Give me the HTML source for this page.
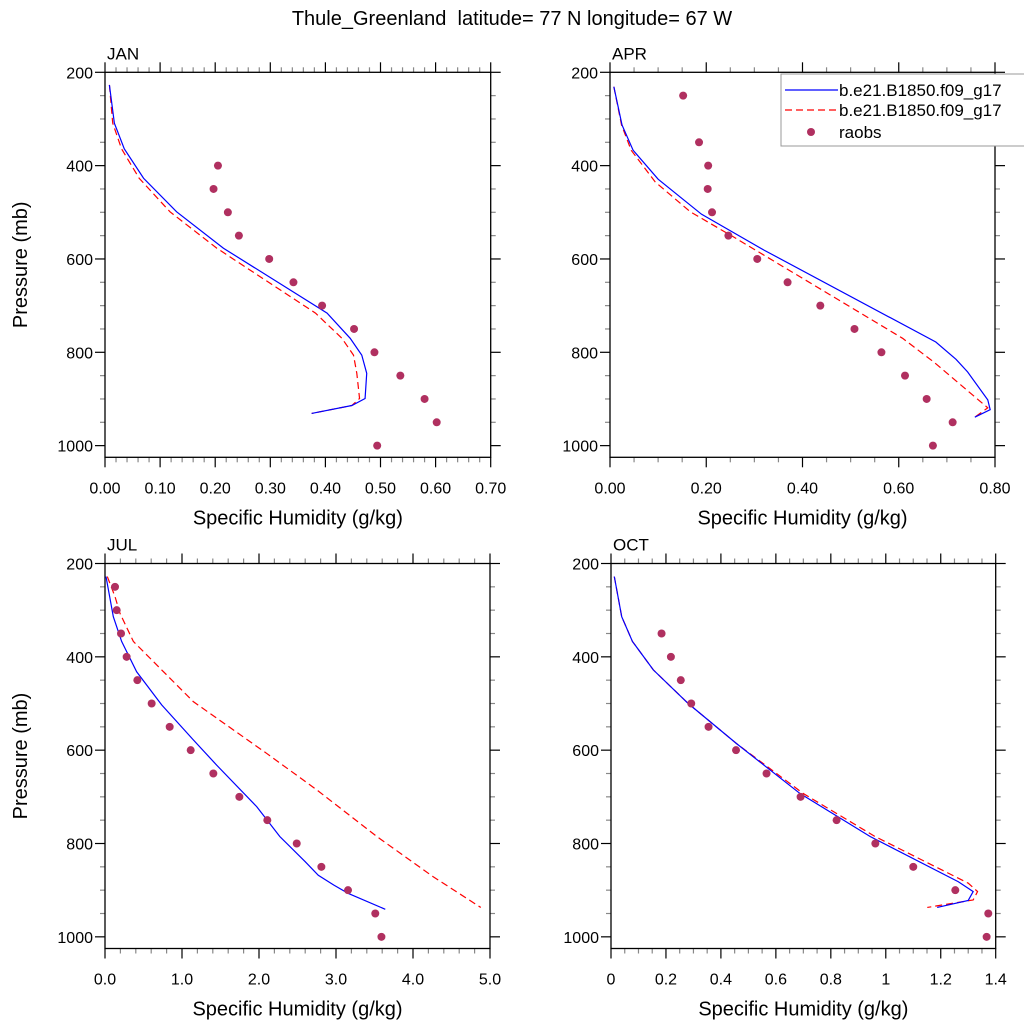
<!DOCTYPE html>
<html><head><meta charset="utf-8">
<style>
html,body{margin:0;padding:0;background:#fff;}
svg{display:block;font-family:"Liberation Sans",sans-serif;}
</style></head>
<body>
<svg id="fig" width="1024" height="1024" viewBox="0 0 1024 1024" xmlns="http://www.w3.org/2000/svg">
<text x="512" y="25" font-size="20" text-anchor="middle" xml:space="preserve" style="white-space:pre">Thule_Greenland  latitude= 77 N longitude= 67 W</text>
</svg>
<script>
// ---- data ----
const presLevels = [250,300,350,400,450,500,550,600,650,700,750,800,850,900,950,1000];
const janModelP = [227,309,364,427,499,577,716,770,806,845,899,914,931];
const janCase1 = [0.008,0.017,0.035,0.070,0.130,0.215,0.403,0.445,0.466,0.475,0.472,0.448,0.375];
const janCase2 = [0.008,0.014,0.030,0.062,0.118,0.203,0.382,0.430,0.451,0.457,0.462,0.448,0.375];
const janObs = [null,null,null,0.205,0.197,0.223,0.243,0.298,0.342,0.394,0.452,0.489,0.536,0.580,0.602,0.494];

const aprModelP1 = [231,313,367,429,504,581,778,815,842,902,923,939];
const aprCase1 = [0.008,0.025,0.048,0.10,0.19,0.32,0.677,0.719,0.743,0.785,0.79,0.758];
const aprModelP2 = [231,313,367,435,499,553,770,821,919,939];
const aprCase2 = [0.008,0.024,0.044,0.094,0.167,0.257,0.608,0.673,0.785,0.758];
const aprObs = [0.152,null,0.185,0.204,0.203,0.212,0.246,0.306,0.369,0.437,0.508,0.564,0.613,0.658,0.712,0.671];

const julModelP1 = [228,314,367,432,503,578,632,721,785,839,868,889,907,941];
const julCase1 = [0.013,0.108,0.216,0.411,0.736,1.147,1.45,1.97,2.27,2.6,2.77,2.97,3.16,3.64];
const julModelP2 = [228,271,307,367,428,496,607,685,785,871,937];
const julCase2 = [0.03,0.13,0.195,0.368,0.736,1.147,2.1,2.75,3.53,4.26,4.88];
const julObs = [0.13,0.152,0.208,0.281,0.42,0.606,0.84,1.113,1.407,1.745,2.108,2.49,2.81,3.156,3.51,3.59];

const octModelP1 = [228,314,367,428,500,586,693,785,882,903,922,937];
const octCase1 = [0.012,0.039,0.078,0.154,0.281,0.457,0.688,0.943,1.264,1.318,1.30,1.187];
const octModelP2 = [228,314,367,428,500,586,693,785,885,903,921,937];
const octCase2 = [0.012,0.039,0.078,0.154,0.281,0.457,0.70,0.961,1.30,1.334,1.318,1.151];
const octObs = [null,null,0.184,0.218,0.254,0.292,0.355,0.455,0.566,0.69,0.821,0.962,1.10,1.253,1.373,1.367];

const yTicks = [200,400,600,800,1000];
const janXTicks = ["0.00","0.10","0.20","0.30","0.40","0.50","0.60","0.70"];
const aprXTicks = ["0.00","0.20","0.40","0.60","0.80"];
const julXTicks = ["0.0","1.0","2.0","3.0","4.0","5.0"];
const octXTicks = ["0","0.2","0.4","0.6","0.8","1","1.2","1.4"];

// ---- drawing ----
const NS="http://www.w3.org/2000/svg";
const svg=document.getElementById('fig');
function mk(tag,attrs,parent){const e=document.createElementNS(NS,tag);for(const k in attrs)e.setAttribute(k,attrs[k]);(parent||svg).appendChild(e);return e;}

function panel(cfg){
  const g=mk('g',{});
  
  
  const x0=cfg.x0,x1=cfg.x1,y0=cfg.y0,y1=cfg.y1;
  const pmin=200,pmax=1025;
  const xs=v=>x0+(v-cfg.xmin)/(cfg.xmax-cfg.xmin)*(x1-x0);
  const ys=p=>y0+(p-pmin)/(pmax-pmin)*(y1-y0);
  for(let p=200;p<=1000;p+=50){
    const major=(p%200===0);
    const L=major?10:5, col=major?'#000':'#888';
    const t1=mk('line',{x1:x0-L,x2:x0,y1:ys(p),y2:ys(p),stroke:col,'stroke-width':1.2},g);
    
    
    const t2=mk('line',{x1:x1,x2:x1+L,y1:ys(p),y2:ys(p),stroke:col,'stroke-width':1.2},g);
    
    
  }
  yTicks.forEach(p=>{
    const t=mk('text',{x:x0-12,y:ys(p)+6,'font-size':16,'text-anchor':'end'},g);
    t.textContent=p;
    
    
  });
  const nMaj=cfg.xlabels.length-1;
  const step=(cfg.xmax-cfg.xmin)/nMaj;
  const nTot=nMaj*cfg.minor;
  for(let i=0;i<=nTot;i++){
    const v=cfg.xmin+i*step/cfg.minor;
    const major=(i%cfg.minor===0);
    const L=major?10:5,col=major?'#000':'#888';
    const a=mk('line',{x1:xs(v),x2:xs(v),y1:y1,y2:y1+L,stroke:col,'stroke-width':1.2},g);
    
    
    const b=mk('line',{x1:xs(v),x2:xs(v),y1:y0-L,y2:y0,stroke:col,'stroke-width':1.2},g);
    
    
  }
  cfg.xlabels.forEach((lab,i)=>{
    const t=mk('text',{x:xs(cfg.xmin+i*step),y:y1+36,'font-size':16,'text-anchor':'middle'},g);
    t.textContent=lab;
    
    
  });
  const box=mk('rect',{x:x0,y:y0,width:x1-x0,height:y1-y0,fill:'none',stroke:'#000','stroke-width':1.3},g);
  
  
  const ttl=mk('text',{x:x0+2,y:y0-13,'font-size':17},g);
  ttl.textContent=cfg.title;
  
  
  const xt=mk('text',{x:(x0+x1)/2,y:y1+67,'font-size':20,'text-anchor':'middle'},g);
  xt.textContent='Specific Humidity (g/kg)';
  
  
  if(cfg.ylabel){
    const yt=mk('text',{x:0,y:0,'font-size':20,'text-anchor':'middle',transform:`translate(27,${(y0+y1)/2}) rotate(-90)`},g);
    yt.textContent='Pressure (mb)';
    
    
  }
  const pts1=cfg.p1.map((p,i)=>xs(cfg.c1[i])+','+ys(p)).join(' ');
  const pts2=cfg.p2.map((p,i)=>xs(cfg.c2[i])+','+ys(p)).join(' ');
  const l2=mk('polyline',{points:pts2,fill:'none',stroke:'#ff0000','stroke-width':1.2,'stroke-dasharray':'7,4'},g);
  
  
  const l1=mk('polyline',{points:pts1,fill:'none',stroke:'#0000ff','stroke-width':1.2},g);
  
  
  cfg.obs.forEach((v,i)=>{
    if(v===null)return;
    const c=mk('circle',{cx:xs(v),cy:ys(presLevels[i]),r:4,fill:'#b03060'},g);
    
    
  });
}

panel({name:'jan',title:'JAN',x0:105,x1:490.7,y0:72.3,y1:457.3,xmin:0,xmax:0.7,xlabels:janXTicks,minor:5,ylabel:true,p1:janModelP,c1:janCase1,p2:janModelP,c2:janCase2,obs:janObs});
panel({name:'apr',title:'APR',x0:610,x1:995,y0:72.3,y1:457.3,xmin:0,xmax:0.8,xlabels:aprXTicks,minor:4,ylabel:false,p1:aprModelP1,c1:aprCase1,p2:aprModelP2,c2:aprCase2,obs:aprObs});
panel({name:'jul',title:'JUL',x0:105,x1:490,y0:563.5,y1:948.5,xmin:0,xmax:5,xlabels:julXTicks,minor:5,ylabel:true,p1:julModelP1,c1:julCase1,p2:julModelP2,c2:julCase2,obs:julObs});
panel({name:'oct',title:'OCT',x0:611,x1:995.7,y0:563.5,y1:948.5,xmin:0,xmax:1.4,xlabels:octXTicks,minor:4,ylabel:false,p1:octModelP1,c1:octCase1,p2:octModelP2,c2:octCase2,obs:octObs});

const lg=mk('g',{});


mk('rect',{x:781,y:74,width:260,height:72,fill:'#fff',stroke:'#999','stroke-width':1},lg);
const e1=mk('line',{x1:785,x2:838,y1:90,y2:90,stroke:'#0000ff','stroke-width':1.2},lg);


const e2=mk('line',{x1:785,x2:838,y1:110,y2:110,stroke:'#ff0000','stroke-width':1.2,'stroke-dasharray':'7,4'},lg);


const e3=mk('circle',{cx:811,cy:132,r:4,fill:'#b03060'},lg);


[['b.e21.B1850.f09_g17',96],['b.e21.B1850.f09_g17',116],['raobs',138]].forEach(([s,y])=>{
  const t=mk('text',{x:839,y:y,'font-size':17},lg);
  t.textContent=s;
  
  
});
</script>
</body></html>
